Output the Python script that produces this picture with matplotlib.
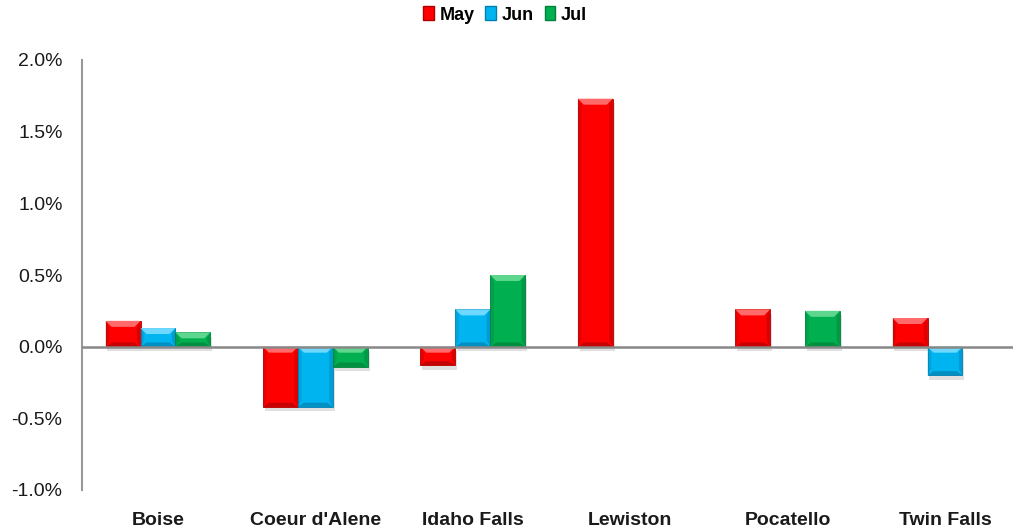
import matplotlib
matplotlib.use("Agg")
import matplotlib.pyplot as plt
from matplotlib.patches import Polygon, Rectangle, Patch
from matplotlib.ticker import FuncFormatter
import numpy as np

# data
cities = ["Boise", "Coeur d'Alene", "Idaho Falls", "Lewiston", "Pocatello", "Twin Falls"]
months = ["May", "Jun", "Jul"]
may = [0.18, -0.42, -0.13, 1.73, 0.26, 0.20]
jun = [0.13, -0.42, 0.26, np.nan, np.nan, -0.20]
jul = [0.10, -0.14, 0.50, np.nan, 0.25, np.nan]

colors = ["#FF0000", "#00B4F0", "#00B050"]
light = ["#FF6A6A", "#6ED8FF", "#5FD68E"]
dark = ["#B00000", "#0080B0", "#00803A"]

plt.rcParams['font.family'] = ['Liberation Sans', 'DejaVu Sans']

fig = plt.figure(figsize=(10.13, 5.29), dpi=100)
W, H = 1013, 529
ax = fig.add_axes([82 / W, 1 - 490 / H, (1013 - 82) / W, (490 - 60) / H])

x = np.arange(len(cities))
bw = 0.222
series = [may, jun, jul]


def bevel(ax, patch, i):
    """draw a fake excel bevel over a bar patch"""
    x0, y0 = patch.get_x(), patch.get_y()
    w, h = patch.get_width(), patch.get_height()
    if h == 0 or np.isnan(h):
        return
    # pixel -> data scale
    inv = ax.transData.inverted()
    p0 = inv.transform((0, 0))
    p1 = inv.transform((6, 6))
    dx, dy = abs(p1[0] - p0[0]), abs(p1[1] - p0[1])
    ylo, yhi = min(y0, y0 + h), max(y0, y0 + h)
    b = min(dy, (yhi - ylo) / 2)
    # shadow
    sh = Rectangle((x0 + dx * 0.3, ylo - dy * 0.7), w, yhi - ylo, color="#000000", alpha=0.12, zorder=1, lw=0)
    ax.add_patch(sh)
    # top bevel
    ax.add_patch(Polygon([(x0, yhi), (x0 + w, yhi), (x0 + w - dx, yhi - b), (x0 + dx, yhi - b)],
                         closed=True, color=light[i], lw=0, zorder=3))
    # bottom bevel
    ax.add_patch(Polygon([(x0, ylo), (x0 + w, ylo), (x0 + w - dx, ylo + b * 0.7), (x0 + dx, ylo + b * 0.7)],
                         closed=True, color=dark[i], lw=0, zorder=3, alpha=0.7))
    # sides
    ax.add_patch(Polygon([(x0, ylo), (x0, yhi), (x0 + dx * 0.6, yhi - b), (x0 + dx * 0.6, ylo + b)],
                         closed=True, color=dark[i], lw=0, zorder=3, alpha=0.3))
    ax.add_patch(Polygon([(x0 + w, ylo), (x0 + w, yhi), (x0 + w - dx * 0.6, yhi - b), (x0 + w - dx * 0.6, ylo + b)],
                         closed=True, color=dark[i], lw=0, zorder=3, alpha=0.45))


ax.set_xlim((82 - 158) / 157.4, (1013 - 158) / 157.4)
ax.set_ylim(-1.0, 2.0)

bars = []
for i, vals in enumerate(series):
    bc = ax.bar(x + (i - 1) * bw, vals, bw, color=colors[i], edgecolor=dark[i], lw=0.6, zorder=2)
    bars.append(bc)

fig.canvas.draw()
for i, bc in enumerate(bars):
    for p in bc.patches:
        bevel(ax, p, i)

ax.axhline(0, color="#888888", lw=1.8, zorder=4)

for s in ["top", "right", "bottom"]:
    ax.spines[s].set_visible(False)
ax.spines["left"].set_color("#999999")
ax.spines["left"].set_linewidth(1.5)

ax.set_yticks(np.arange(-1.0, 2.01, 0.5))
ax.yaxis.set_major_formatter(FuncFormatter(lambda v, p: f"{v:.1f}%"))
ax.tick_params(axis="y", length=0, pad=14, labelsize=14, labelcolor="#1a1a1a")
ax.set_xticks(x)
ax.set_xticklabels(cities)
ax.tick_params(axis="x", length=0, pad=16, labelsize=14, labelcolor="#1a1a1a")
for t in ax.get_xticklabels():
    t.set_fontweight("bold")

handles = [Patch(facecolor=colors[i], edgecolor=dark[i], label=months[i]) for i in range(3)]
leg = fig.legend(handles=handles, loc="center", bbox_to_anchor=(505 / W, 1 - 15 / H), ncol=3,
                 frameon=False, handlelength=0.6, handleheight=0.8, handletextpad=0.3, columnspacing=0.6,
                 prop={"weight": "bold", "size": 13})

fig.savefig("out.png", dpi=100)
